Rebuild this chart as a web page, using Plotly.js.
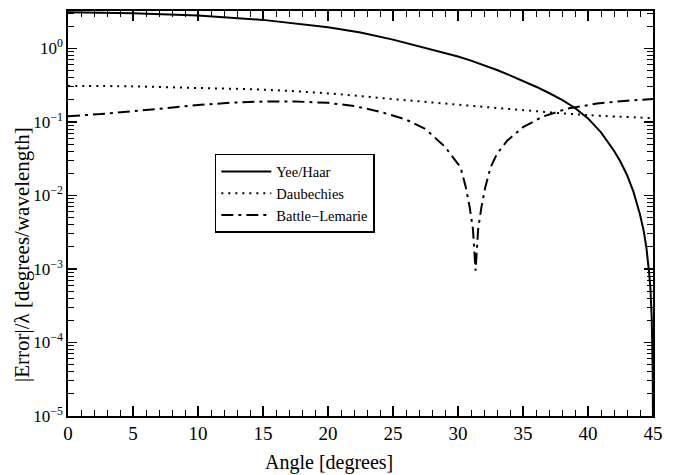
<!DOCTYPE html>
<html>
<head>
<meta charset="utf-8">
<script src="https://cdn.plot.ly/plotly-3.0.1.min.js"></script>
<style>html,body{margin:0;padding:0;background:#fff;}#chart{width:674px;height:475px;}</style>
</head>
<body>
<div id="chart"></div>
<script>
// Yee/Haar (solid)
const yeeAngle = [0, 5, 10, 15, 20, 22.5, 25, 27.5, 30, 31, 32, 33, 34, 35, 36, 37, 38, 39, 40, 41, 42, 42.5, 43, 43.5, 44, 44.3, 44.5, 44.7, 44.8, 44.9, 44.95, 44.98, 45];
const yeeError = [3.1, 3.02, 2.8, 2.45, 1.95, 1.65, 1.32, 1.02, 0.776, 0.684, 0.596, 0.509, 0.431, 0.363, 0.302, 0.248, 0.2, 0.155, 0.112, 0.0724, 0.0407, 0.0288, 0.019, 0.0112, 0.0055, 0.0032, 0.0019, 0.00089, 0.00055, 0.00022, 0.0001, 0.00004, 0.000005];
// Daubechies (dotted)
const daubAngle = [0, 5, 10, 15, 20, 25, 30, 35, 40, 45];
const daubError = [0.31, 0.305, 0.29, 0.275, 0.245, 0.205, 0.172, 0.145, 0.124, 0.113];
// Battle-Lemarie (dash-dot)
const blAngle = [0, 2.5, 5, 7.5, 10, 12.5, 15, 17.5, 20, 22, 24, 26, 27.5, 29, 30.2, 30.6, 30.9, 31.15, 31.35, 31.55, 31.8, 32.1, 32.5, 33, 33.8, 35, 36.5, 38.4, 40.7, 43, 45];
const blError = [0.12, 0.128, 0.14, 0.155, 0.17, 0.183, 0.19, 0.19, 0.182, 0.165, 0.138, 0.108, 0.08, 0.046, 0.024, 0.013, 0.0069, 0.0035, 0.00095, 0.0035, 0.0069, 0.013, 0.024, 0.037, 0.056, 0.085, 0.118, 0.152, 0.178, 0.195, 0.205];

const yTickVals = [1e-5, 1e-4, 1e-3, 1e-2, 1e-1, 1];
const yTickText = ['10<sup>−5</sup>', '10<sup>−4</sup>', '10<sup>−3</sup>', '10<sup>−2</sup>', '10<sup>−1</sup>', '10<sup>0</sup>'];

const xTitle = 'Angle [degrees]';
const yTitle = '|Error|/λ [degrees/wavelength]';

const serif = 'Liberation Serif';

const traces = [
  {x: yeeAngle, y: yeeError, name: 'Yee/Haar', mode: 'lines', line: {color: '#000', width: 2}},
  {x: daubAngle, y: daubError, name: 'Daubechies', mode: 'lines', line: {color: '#000', width: 2, dash: '2px,5px', shape: 'spline'}},
  {x: blAngle, y: blError, name: 'Battle\u2212Lemarie', mode: 'lines', line: {color: '#000', width: 2, dash: '12px,5px,3px,5px'}}
];

const layout = {
  width: 674, height: 475,
  margin: {l: 68, r: 21, t: 11, b: 59},
  paper_bgcolor: '#fff', plot_bgcolor: '#fff',
  font: {family: serif, color: '#000', size: 17},
  showlegend: true,
  legend: {x: 0.251, y: 0.647, xanchor: 'left', yanchor: 'top', bgcolor: '#fff', bordercolor: '#000', borderwidth: 1.5, font: {family: serif, size: 14.5, color: '#000'}, itemwidth: 50},
  xaxis: {
    range: [0, 45], dtick: 5, tick0: 0,
    showline: true, linecolor: '#000', linewidth: 1.6, mirror: 'ticks',
    ticks: 'inside', ticklen: 10, tickwidth: 1.2, tickcolor: '#000',
    minor: {dtick: 1, ticks: 'inside', ticklen: 6, tickwidth: 1, tickcolor: '#000', showgrid: false},
    showgrid: false, zeroline: false,
    tickfont: {family: serif, size: 19, color: '#000'}
  },
  yaxis: {
    type: 'log', range: [-5, 0.51],
    tickmode: 'array', tickvals: yTickVals, ticktext: yTickText,
    showline: true, linecolor: '#000', linewidth: 1.6, mirror: 'ticks',
    ticks: 'inside', ticklen: 9, tickwidth: 1.2, tickcolor: '#000',
    minor: {dtick: 'D1', ticks: 'inside', ticklen: 6, tickwidth: 1, tickcolor: '#000', showgrid: false},
    showgrid: false, zeroline: false,
    tickfont: {family: serif, size: 17, color: '#000'}
  },
  annotations: [
    {text: xTitle, xref: 'paper', yref: 'paper', x: 0.446, y: -0.116, xanchor: 'center', yanchor: 'middle', showarrow: false, font: {family: serif, size: 20, color: '#000'}},
    {text: yTitle, xref: 'paper', yref: 'paper', x: -0.0786, y: 0.3975, xanchor: 'center', yanchor: 'middle', textangle: -90, showarrow: false, font: {family: serif, size: 21, color: '#000'}}
  ]
};

Plotly.newPlot('chart', traces, layout, {staticPlot: true, displayModeBar: false});
</script>
</body>
</html>
